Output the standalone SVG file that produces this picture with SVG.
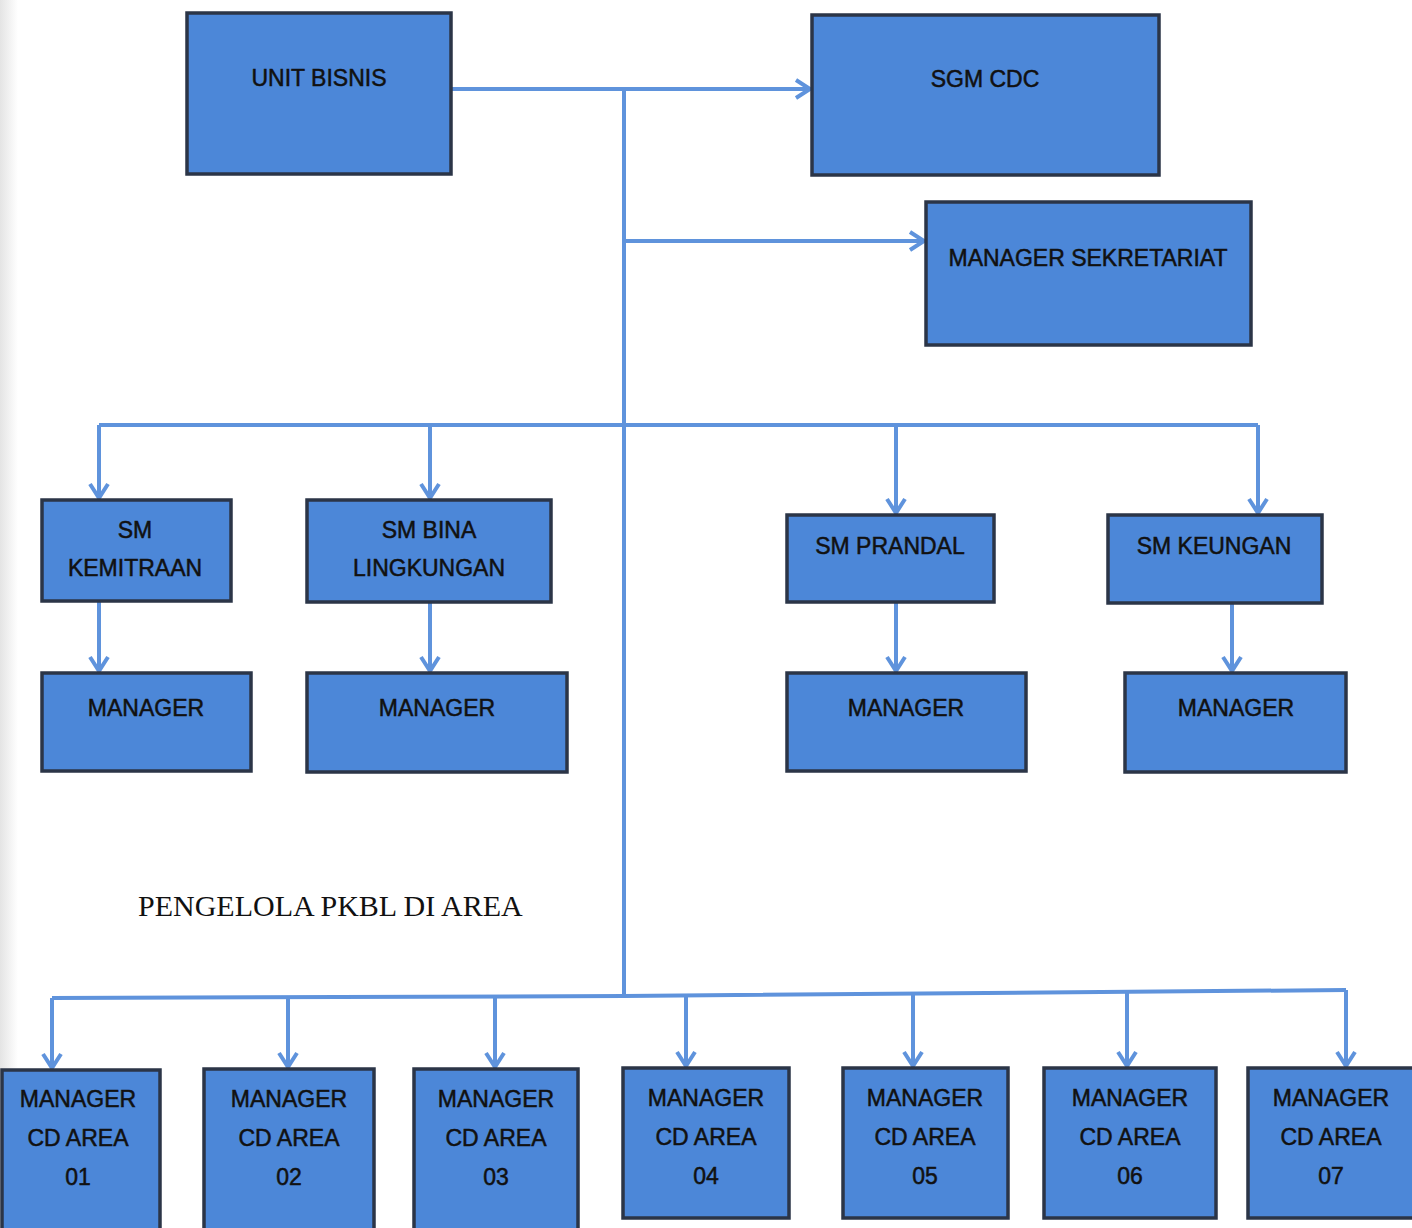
<svg xmlns="http://www.w3.org/2000/svg" width="1412" height="1228" viewBox="0 0 1412 1228">
<defs>
<marker id="ah" markerUnits="userSpaceOnUse" markerWidth="20" markerHeight="24" refX="15" refY="10" orient="auto" overflow="visible">
<path d="M1,1 L15,10 L1,19" fill="none" stroke="#5f93dc" stroke-width="4" stroke-linejoin="miter"/>
</marker>
<linearGradient id="edge" x1="0" x2="1" y1="0" y2="0">
<stop offset="0" stop-color="#e4e4e4"/><stop offset="1" stop-color="#ffffff"/>
</linearGradient>
</defs>
<style>
.box{fill:#4c87d8;stroke:#2b3547;stroke-width:3.5}
.t{font-family:"Liberation Sans",Arial,sans-serif;font-size:23px;fill:#111;stroke:#111;stroke-width:0.5;text-anchor:middle}
.c{fill:none;stroke:#5f93dc;stroke-width:4}
.a{fill:none;stroke:#5f93dc;stroke-width:4;marker-end:url(#ah)}
</style>
<rect x="0" y="0" width="1412" height="1228" fill="#ffffff"/>
<rect x="0" y="0" width="18" height="1228" fill="url(#edge)"/>

<g id="connectors">
<path class="c" d="M624,89 V997"/>
<path class="a" d="M432,89 H810"/>
<path class="a" d="M624,241 H924"/>
<path class="c" d="M99,425 H1258"/>
<path class="a" d="M99,425 V498"/>
<path class="a" d="M430,425 V498"/>
<path class="a" d="M896,425 V513"/>
<path class="a" d="M1258,425 V513"/>
<path class="a" d="M99,601 V671"/>
<path class="a" d="M430,602 V671"/>
<path class="a" d="M896,602 V671"/>
<path class="a" d="M1232,603 V671"/>
<path class="c" d="M52,998 L624,996 L1346,990"/>
<path class="a" d="M52,998 V1068"/>
<path class="a" d="M288,997 V1067"/>
<path class="a" d="M495,996 V1067"/>
<path class="a" d="M686,995 V1066"/>
<path class="a" d="M913,993 V1066"/>
<path class="a" d="M1127,992 V1066"/>
<path class="a" d="M1346,990 V1066"/>
</g>

<g id="unit-bisnis"><rect class="box" x="187" y="13" width="264" height="161"/><text class="t" x="319" y="86">UNIT BISNIS</text></g>
<g id="sgm-cdc"><rect class="box" x="812" y="15" width="347" height="160"/><text class="t" x="985" y="87">SGM CDC</text></g>
<g id="manager-sekretariat"><rect class="box" x="926" y="202" width="325" height="143"/><text class="t" x="1088" y="266">MANAGER SEKRETARIAT</text></g>

<g id="sm-kemitraan"><rect class="box" x="42" y="500" width="189" height="101"/><text class="t" x="135" y="538">SM</text><text class="t" x="135" y="576">KEMITRAAN</text></g>
<g id="sm-bina-lingkungan"><rect class="box" x="307" y="500" width="244" height="102"/><text class="t" x="429" y="538">SM BINA</text><text class="t" x="429" y="576">LINGKUNGAN</text></g>
<g id="sm-prandal"><rect class="box" x="787" y="515" width="207" height="87"/><text class="t" x="890" y="554">SM PRANDAL</text></g>
<g id="sm-keungan"><rect class="box" x="1108" y="515" width="214" height="88"/><text class="t" x="1214" y="554">SM KEUNGAN</text></g>

<g id="manager-1"><rect class="box" x="42" y="673" width="209" height="98"/><text class="t" x="146" y="716">MANAGER</text></g>
<g id="manager-2"><rect class="box" x="307" y="673" width="260" height="99"/><text class="t" x="437" y="716">MANAGER</text></g>
<g id="manager-3"><rect class="box" x="787" y="673" width="239" height="98"/><text class="t" x="906" y="716">MANAGER</text></g>
<g id="manager-4"><rect class="box" x="1125" y="673" width="221" height="99"/><text class="t" x="1236" y="716">MANAGER</text></g>

<text id="pengelola" x="138" y="916" font-family="'Liberation Serif','Times New Roman',serif" font-size="30" fill="#111">PENGELOLA PKBL DI AREA</text>

<g id="cd-area-01"><rect class="box" x="2" y="1070" width="158" height="170"/><text class="t" x="78" y="1107">MANAGER</text><text class="t" x="78" y="1146">CD AREA</text><text class="t" x="78" y="1185">01</text></g>
<g id="cd-area-02"><rect class="box" x="204" y="1069" width="170" height="170"/><text class="t" x="289" y="1107">MANAGER</text><text class="t" x="289" y="1146">CD AREA</text><text class="t" x="289" y="1185">02</text></g>
<g id="cd-area-03"><rect class="box" x="414" y="1069" width="164" height="170"/><text class="t" x="496" y="1107">MANAGER</text><text class="t" x="496" y="1146">CD AREA</text><text class="t" x="496" y="1185">03</text></g>
<g id="cd-area-04"><rect class="box" x="623" y="1068" width="166" height="150"/><text class="t" x="706" y="1106">MANAGER</text><text class="t" x="706" y="1145">CD AREA</text><text class="t" x="706" y="1184">04</text></g>
<g id="cd-area-05"><rect class="box" x="843" y="1068" width="165" height="150"/><text class="t" x="925" y="1106">MANAGER</text><text class="t" x="925" y="1145">CD AREA</text><text class="t" x="925" y="1184">05</text></g>
<g id="cd-area-06"><rect class="box" x="1044" y="1068" width="172" height="150"/><text class="t" x="1130" y="1106">MANAGER</text><text class="t" x="1130" y="1145">CD AREA</text><text class="t" x="1130" y="1184">06</text></g>
<g id="cd-area-07"><rect class="box" x="1248" y="1068" width="170" height="150"/><text class="t" x="1331" y="1106">MANAGER</text><text class="t" x="1331" y="1145">CD AREA</text><text class="t" x="1331" y="1184">07</text></g>
</svg>
